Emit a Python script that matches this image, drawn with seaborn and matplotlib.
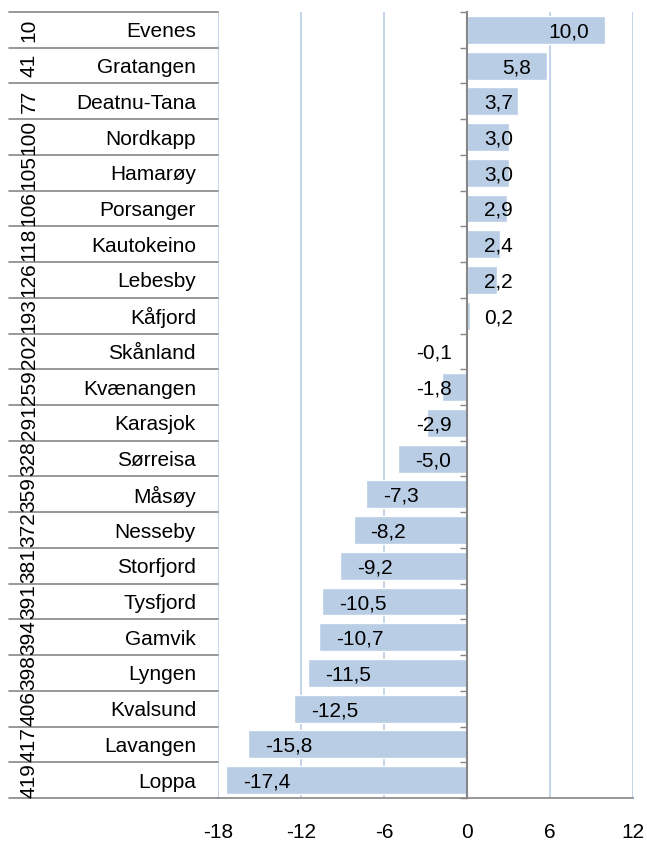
import matplotlib
matplotlib.use("Agg")
import matplotlib.pyplot as plt
import seaborn as sns
import pandas as pd
import numpy as np

ranks = ["10", "41", "77", "100", "105", "106", "118", "126", "193", "202", "259",
         "291", "328", "359", "372", "381", "391", "394", "398", "406", "417", "419"]
names = ["Evenes", "Gratangen", "Deatnu-Tana", "Nordkapp", "Hamarøy", "Porsanger",
         "Kautokeino", "Lebesby", "Kåfjord", "Skånland", "Kvænangen", "Karasjok",
         "Sørreisa", "Måsøy", "Nesseby", "Storfjord", "Tysfjord", "Gamvik", "Lyngen",
         "Kvalsund", "Lavangen", "Loppa"]
values = [10.0, 5.8, 3.7, 3.0, 3.0, 2.9, 2.4, 2.2, 0.2, -0.1, -1.8, -2.9, -5.0,
          -7.3, -8.2, -9.2, -10.5, -10.7, -11.5, -12.5, -15.8, -17.4]
xticks = [-18, -12, -6, 0, 6, 12]

df = pd.DataFrame({"name": names, "value": values})

sns.set_theme(style="white")
plt.rcParams["font.family"] = ["Liberation Sans", "DejaVu Sans"]
plt.rcParams["text.color"] = "black"
plt.rcParams["xtick.color"] = "black"
plt.rcParams["ytick.color"] = "black"
FS = 15
BAR = "#B9CDE5"
GRID = "#B9CDE5"
GRAY = "#868686"

W, H = 647, 843
fig = plt.figure(figsize=(W / 100, H / 100), dpi=100)
L, R, T, B = 218, 633, 12, 798
ax = fig.add_axes([L / W, 1 - B / H, (R - L) / W, (B - T) / H])

sns.barplot(data=df, y="name", x="value", order=names, orient="h",
            color=BAR, saturation=1, width=0.78, ax=ax, zorder=2)

ax.set_xlim(-18, 12)
ax.set_ylim(len(names) - 0.5, -0.5)
ax.set_xticks(xticks)
ax.set_xticklabels([str(t) for t in xticks], fontsize=FS, color="black")
ax.tick_params(axis="x", direction="out", length=6, width=1, color=GRAY, pad=12,
               labelcolor="black")
ax.xaxis.grid(True, color=GRID, linewidth=1.2, zorder=0)
ax.set_axisbelow(True)
ax.set_xlabel("")
ax.set_ylabel("")

for s in ["top", "right"]:
    ax.spines[s].set_visible(False)
ax.spines["bottom"].set_color(GRAY)
ax.spines["bottom"].set_linewidth(1.2)
ax.spines["left"].set_position(("data", 0))
ax.spines["left"].set_color(GRAY)
ax.spines["left"].set_linewidth(1.5)
ax.spines["left"].set_zorder(3)

bounds = np.arange(-0.5, len(names), 1.0)
ax.set_yticks(bounds)
ax.set_yticklabels([""] * len(bounds))
ax.tick_params(axis="y", direction="out", length=5, width=1, color=GRAY, left=True)

# category table on the left
x0 = (9 - L) / (R - L)
for b in bounds:
    ax.plot([x0, 0], [b, b], transform=ax.get_yaxis_transform(), color=GRAY,
            linewidth=1.2, clip_on=False)
xn = (196 - L) / (R - L)
xr = (29 - L) / (R - L)
for i, (rk, nm) in enumerate(zip(ranks, names)):
    ax.text(xn, i, nm, transform=ax.get_yaxis_transform(), ha="right",
            va="center_baseline", fontsize=FS, color="black")
    ax.text(xr, i, rk, transform=ax.get_yaxis_transform(), ha="center",
            va="center", rotation=90, fontsize=FS, color="black")

# value labels
fig.canvas.draw()
rend = fig.canvas.get_renderer()
ppu = (R - L) / 30.0
for i, v in enumerate(values):
    lab = f"{v:.1f}".replace(".", ",")
    t = ax.text(0, i, lab, ha="left", va="center_baseline", fontsize=FS,
                color="black")
    w = t.get_window_extent(rend).width / ppu
    if v >= 0:
        left = max(v - 16 / ppu - w, 17 / ppu)
    else:
        left = min(v + 17 / ppu, -15 / ppu - w)
    t.set_x(left)

fig.savefig("out.png", dpi=100)
